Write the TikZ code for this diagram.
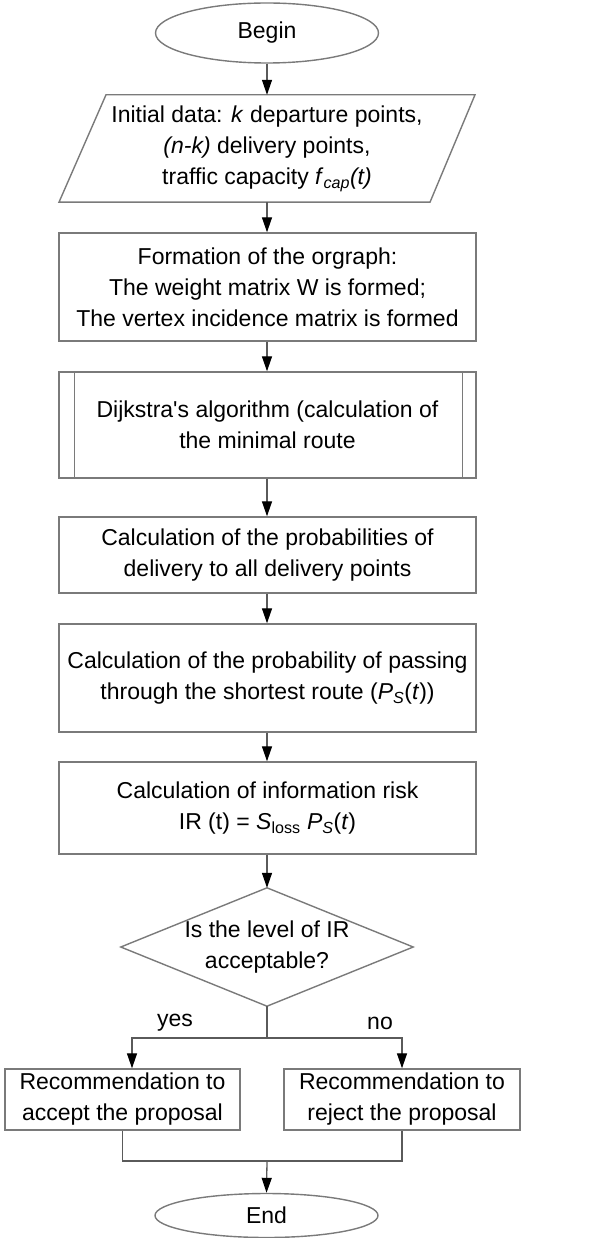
\documentclass[tikz,border=0pt]{standalone}
\usepackage{fontspec}
\setmainfont{Liberation Sans}
\usetikzlibrary{arrows.meta,shapes.geometric,calc}
\definecolor{boxgray}{HTML}{7A7A7A}
\definecolor{linegray}{HTML}{5A5A5A}
\begin{document}
\begin{tikzpicture}[x=1pt,y=-1pt,
  font=\fontsize{23}{31}\selectfont,
  every node/.style={inner sep=0pt, align=center},
  boxshape/.style={draw=boxgray, line width=1.4pt},
  procbox/.style={boxshape, rectangle, minimum width=417pt},
  termbox/.style={boxshape, ellipse, minimum width=223pt},
  lbl/.style={text=black},
  link/.style={draw=linegray, line width=1.3pt},
  conn/.style={link, -{Triangle[length=15pt,width=10pt,color=black]}}
]
\useasboundingbox (0,0) rectangle (593,1238);

% Begin
\node[termbox, minimum height=60pt] (begin) at (267,33) {Begin};

% Initial data (parallelogram)
\node[minimum width=370pt, minimum height=107pt] (init) at (267,148.5)
  {Initial data: \textit{k} departure points,\\
   \textit{(n-k)} delivery points,\\
   traffic capacity \textit{f}\textsubscript{\textit{cap}}\textit{(t)}};
\draw[boxshape] (init.north -| 106,0) -- (init.north -| 475,0)
  -- (init.south -| 430,0) -- (init.south -| 59,0) -- cycle;

% Formation
\node[procbox, minimum height=108pt] (form) at (267.5,287)
  {Formation of the orgraph:\\
   The weight matrix W is formed;\\
   The vertex incidence matrix is formed};

% Dijkstra
\node[procbox, minimum height=106pt] (dijk) at (267.5,425)
  {Dijkstra\textquotesingle s algorithm (calculation of\\ the minimal route};
\draw[boxshape] ([xshift=16pt]dijk.north west) -- ([xshift=16pt]dijk.south west);
\draw[boxshape] ([xshift=-14pt]dijk.north east) -- ([xshift=-14pt]dijk.south east);

% Probabilities
\node[procbox, minimum height=76pt] (prob) at (267.5,555)
  {Calculation of the probabilities of\\ delivery to all delivery points};

% Passing
\node[procbox, minimum height=108pt] (pass) at (267.5,678)
  {Calculation of the probability of passing\\
   through the shortest route (\textit{P}\textsubscript{\textit{S}}(\textit{t}))};

% IR
\node[procbox, minimum height=92pt] (risk) at (267.5,808)
  {Calculation of information risk\\
   IR (t) = \textit{S}\textsubscript{loss} \textit{P}\textsubscript{\textit{S}}(\textit{t})};

% Decision
\node[minimum width=292pt, minimum height=118pt] (dec) at (267,947)
  {Is the level of IR\\ acceptable?};
\draw[boxshape] (dec.north) -- (dec.east) -- (dec.south) -- (dec.west) -- cycle;

% Outcome boxes
\node[boxshape, minimum width=235pt, minimum height=61pt] (yesbox) at (122.5,1099.5)
  {Recommendation to\\ accept the proposal};
\node[boxshape, minimum width=236pt, minimum height=61pt] (nobox) at (402,1099.5)
  {Recommendation to\\ reject the proposal};

% End
\node[termbox, minimum height=44pt] (end) at (266.5,1215.5) {End};

% Labels
\node[lbl] (yeslbl) at (175,1023) {yes};
\node[lbl] (nolbl) at (380,1023) {no};

% Connectors
\draw[conn] (begin.south) -- (begin.south |- init.north);
\draw[conn] (init.south -| 267,0) -- (form.north -| 267,0);
\draw[conn] (form.south -| 267,0) -- (dijk.north -| 267,0);
\draw[conn] (dijk.south -| 267,0) -- (prob.north -| 267,0);
\draw[conn] (prob.south -| 267,0) -- (pass.north -| 267,0);
\draw[conn] (pass.south -| 267,0) -- (risk.north -| 267,0);
\draw[conn] (risk.south -| 267,0) -- (dec.north);

\coordinate (split) at (267,1038);
\coordinate (yesturn) at (132,1038);
\coordinate (noturn) at (402,1038);
\draw[link] (dec.south) -- (split);
\draw[conn] (split) -- (yesturn) -- (yesturn |- yesbox.north);
\draw[conn] (split) -- (noturn) -- (noturn |- nobox.north);

\coordinate (merge) at (267,1161);
\draw[link] (yesbox.south) -- (yesbox.south |- merge) -- (nobox.south |- merge) -- (nobox.south);
\draw[conn] (merge) -- (end.north);
\end{tikzpicture}
\end{document}
